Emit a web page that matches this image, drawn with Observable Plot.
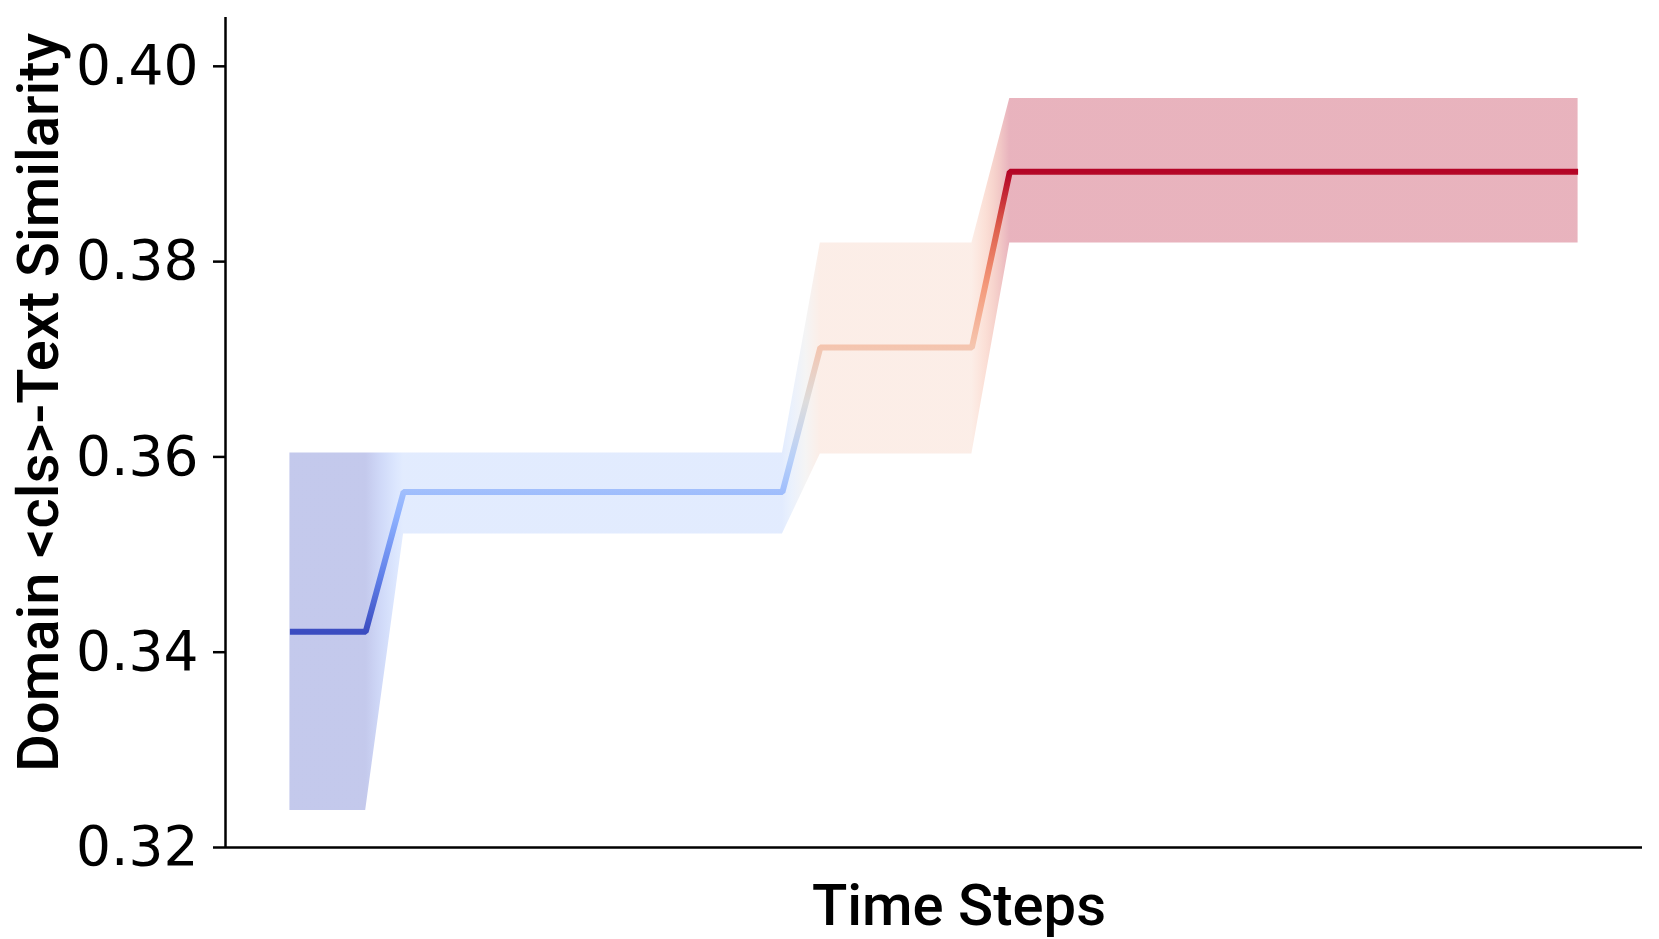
<!DOCTYPE html>
<html>
<head>
<meta charset="utf-8">
<script src="https://cdn.jsdelivr.net/npm/d3@7"></script>
<script src="https://cdn.jsdelivr.net/npm/@observablehq/plot@0.6"></script>
<style>
  html, body { margin: 0; padding: 0; background: #ffffff; overflow: hidden; color: #000; }
  #chart svg { display: block; background: #ffffff; }
</style>
</head>
<body>
<div id="chart"></div>
<script>
// ---- data ----
const timeSteps = [0, 1, 2, 3, 4, 5, 6, 7, 8, 9, 10, 11, 12, 13, 14, 15, 16, 17, 18, 19, 20, 21, 22, 23, 24, 25, 26, 27, 28, 29, 30, 31, 32, 33, 34];
const meanValues = [
  0.3421, 0.3421, 0.3421,
  0.3564, 0.3564, 0.3564, 0.3564, 0.3564, 0.3564, 0.3564, 0.3564, 0.3564, 0.3564, 0.3564,
  0.3712, 0.3712, 0.3712, 0.3712, 0.3712,
  0.3892, 0.3892, 0.3892, 0.3892, 0.3892, 0.3892, 0.3892, 0.3892, 0.3892, 0.3892, 0.3892, 0.3892, 0.3892, 0.3892, 0.3892, 0.3892
];
const lowerValues = [
  0.3238, 0.3238, 0.3238,
  0.3521, 0.3521, 0.3521, 0.3521, 0.3521, 0.3521, 0.3521, 0.3521, 0.3521, 0.3521, 0.3521,
  0.3603, 0.3603, 0.3603, 0.3603, 0.3603,
  0.3819, 0.3819, 0.3819, 0.3819, 0.3819, 0.3819, 0.3819, 0.3819, 0.3819, 0.3819, 0.3819, 0.3819, 0.3819, 0.3819, 0.3819, 0.3819
];
const upperValues = [
  0.3604, 0.3604, 0.3604,
  0.3604, 0.3604, 0.3604, 0.3604, 0.3604, 0.3604, 0.3604, 0.3604, 0.3604, 0.3604, 0.3604,
  0.3819, 0.3819, 0.3819, 0.3819, 0.3819,
  0.3967, 0.3967, 0.3967, 0.3967, 0.3967, 0.3967, 0.3967, 0.3967, 0.3967, 0.3967, 0.3967, 0.3967, 0.3967, 0.3967, 0.3967, 0.3967
];
const yTicks = [0.32, 0.34, 0.36, 0.38, 0.40];
const xDomain = [-1.7, 35.7];
const yDomain = [0.32, 0.405];
const xLabel = "Time Steps";
const yLabel = "Domain <cls>-Text Similarity";

// coolwarm colormap anchors (style)
const coolwarmStops = ["#3b4cc0", "#6282ea", "#8db0fe", "#b8d0f9", "#dddcdc", "#f5c4ad", "#f49a7b", "#de604d", "#b40426"];

const data = timeSteps.map((t, i) => ({t, mean: meanValues[i], lower: lowerValues[i], upper: upperValues[i]}));

const chart = Plot.plot({
  width: 1659,
  height: 939,
  marginLeft: 225,
  marginRight: 17,
  marginTop: 17,
  marginBottom: 92,
  style: {background: "#ffffff", color: "#000000", fontFamily: "DejaVu Sans"},
  x: {domain: xDomain, axis: null},
  y: {domain: yDomain, axis: null},
  marks: [
    Plot.areaY(data, {x: "t", y1: "lower", y2: "upper", fill: "url(#bandGrad)", fillOpacity: 0.3}),
    Plot.line(data, {x: "t", y: "mean", stroke: "url(#lineGrad)", strokeWidth: 6, strokeLinejoin: "miter", strokeLinecap: "butt"}),
    Plot.ruleX([xDomain[0]], {stroke: "#000", strokeWidth: 2.5}),
    Plot.ruleY([yDomain[0]], {stroke: "#000", strokeWidth: 2.5}),
    Plot.axisY(yTicks, {tickFormat: ".2f", tickSize: 12, tickPadding: 15, fontSize: 55, fontFamily: "DejaVu Sans", strokeWidth: 2.5, label: null}),
    Plot.text([xLabel], {frameAnchor: "bottom", lineAnchor: "bottom", textAnchor: "middle", dy: 77, dx: 25, fontSize: 58, fontFamily: "Roboto", fontWeight: 500, fill: "#000"}),
    Plot.text([yLabel], {frameAnchor: "left", lineAnchor: "bottom", textAnchor: "middle", rotate: -90, dx: -168, dy: -30, fontSize: 58, fontFamily: "Roboto", fontWeight: 500, fill: "#000"})
  ]
});

// gradients derived from the chart's scales
const xs = chart.scale("x"), ys = chart.scale("y");
const coolwarm = d3.piecewise(d3.interpolateRgb, coolwarmStops);
const mMin = d3.min(meanValues), mMax = d3.max(meanValues);
const norm = v => (v - mMin) / (mMax - mMin);
const defs = d3.select(chart).insert("defs", ":first-child");

const lg = defs.append("linearGradient").attr("id", "lineGrad").attr("gradientUnits", "userSpaceOnUse")
  .attr("x1", 0).attr("x2", 0).attr("y1", ys.apply(mMin)).attr("y2", ys.apply(mMax));
for (let k = 0; k <= 32; k++) {
  const f = k / 32;
  lg.append("stop").attr("offset", f).attr("stop-color", coolwarm(f));
}

const bx1 = xs.apply(timeSteps[0]), bx2 = xs.apply(timeSteps[timeSteps.length - 1]);
const bg = defs.append("linearGradient").attr("id", "bandGrad").attr("gradientUnits", "userSpaceOnUse")
  .attr("x1", bx1).attr("x2", bx2).attr("y1", 0).attr("y2", 0);
for (let i = 0; i < timeSteps.length - 1; i++) {
  for (let k = 0; k <= 8; k++) {
    const f = k / 8;
    const t = timeSteps[i] + f * (timeSteps[i + 1] - timeSteps[i]);
    const m = meanValues[i] + f * (meanValues[i + 1] - meanValues[i]);
    bg.append("stop").attr("offset", (xs.apply(t) - bx1) / (bx2 - bx1)).attr("stop-color", coolwarm(norm(m)));
  }
}

document.getElementById("chart").appendChild(chart);
</script>
</body>
</html>
